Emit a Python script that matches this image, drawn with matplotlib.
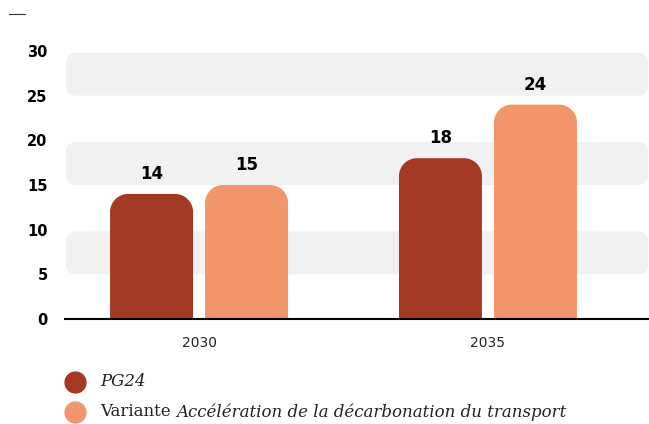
import numpy as np
import matplotlib.pyplot as plt
from matplotlib.path import Path
from matplotlib.patches import PathPatch
from matplotlib.lines import Line2D

years = ["2030", "2035"]
pg24 = [14, 18]
variante = [15, 24]
yticks = [0, 5, 10, 15, 20, 25, 30]
bands = [(5, 9.8), (15, 19.8), (25, 29.8)]

c_dark = "#A33923"
c_light = "#F2956A"
c_band = "#F1F1F1"


def rounded(x0, y0, x1, y1, rx, ry, top_only=False):
    # rectangle with rounded corners (rx, ry in data units)
    k = 0.5523
    if top_only:
        v = [(x0, y0), (x1, y0)]
        c = [Path.MOVETO, Path.LINETO]
    else:
        v = [(x0 + rx, y0), (x1 - rx, y0),
             (x1 - rx + k * rx, y0), (x1, y0 + ry - k * ry), (x1, y0 + ry)]
        c = [Path.MOVETO, Path.LINETO] + [Path.CURVE4] * 3
    v += [(x1, y1 - ry), (x1, y1 - ry + k * ry), (x1 - rx + k * rx, y1), (x1 - rx, y1)]
    c += [Path.LINETO] + [Path.CURVE4] * 3
    v += [(x0 + rx, y1), (x0 + rx - k * rx, y1), (x0, y1 - ry + k * ry), (x0, y1 - ry)]
    c += [Path.LINETO] + [Path.CURVE4] * 3
    if top_only:
        v += [(x0, y0)]
        c += [Path.LINETO]
    else:
        v += [(x0, y0 + ry), (x0, y0 + ry - k * ry), (x0 + rx - k * rx, y0), (x0 + rx, y0)]
        c += [Path.LINETO] + [Path.CURVE4] * 3
    v += [(0, 0)]
    c += [Path.CLOSEPOLY]
    return Path(v, c)


fig = plt.figure(figsize=(6.49, 4.24), dpi=100)
ax = fig.add_axes([65 / 649, 1 - 319 / 424, (648 - 65) / 649, 268 / 424])
xmin, xmax = -0.464, 1.554
ax.set_xlim(xmin, xmax)
ax.set_ylim(0, 30)

px_x = (xmax - xmin) / 583
px_y = 30 / 268

for b0, b1 in bands:
    ax.add_patch(PathPatch(rounded(xmin + px_x, b0, xmax, b1, 9 * px_x, 9 * px_y),
                           facecolor=c_band, edgecolor="none", zorder=0))

x = np.arange(len(years))
w = 83 * px_x
off = 47.5 * px_x
for xi, a, b in zip(x, pg24, variante):
    for xc, val, col in [(xi - off, a, c_dark), (xi + off, b, c_light)]:
        ax.add_patch(PathPatch(rounded(xc - w / 2, 0, xc + w / 2, val, 18 * px_x, 18 * px_y, top_only=True),
                               facecolor=col, edgecolor="none", zorder=2))
        ax.text(xc, val + 1.2, str(val), ha="center", va="bottom", fontsize=12,
                fontweight="heavy", color="black", zorder=3)

for s in ["top", "right", "left"]:
    ax.spines[s].set_visible(False)
ax.spines["bottom"].set_linewidth(1.5)
ax.spines["bottom"].set_zorder(4)
ax.set_xticks(x)
ax.set_xticklabels(years, fontsize=10, color="#222222")
ax.set_yticks(yticks)
ax.set_yticklabels([str(t) for t in yticks], fontsize=10.5, fontweight="bold")
ax.tick_params(length=0)
ax.tick_params(axis="x", pad=12)
ax.tick_params(axis="y", pad=12.5)

# top-left dash
fig.add_artist(Line2D([9 / 649, 25 / 649], [1 - 14 / 424, 1 - 14 / 424], color="#333333", lw=0.8))

# legend
for yy, col in [(382, c_dark), (412, c_light)]:
    fig.add_artist(Line2D([75 / 649], [1 - yy / 424], marker="o", markersize=15,
                          color=col, linestyle="none"))

fs = 12
fig.text(100 / 649, 1 - 382 / 424, "PG24", style="italic", family="DejaVu Serif",
         fontsize=fs, va="center", color="#222222")
t = fig.text(100 / 649, 1 - 412 / 424, "Variante ", family="DejaVu Serif",
             fontsize=fs, va="center", color="#222222")
fig.canvas.draw()
bb = t.get_window_extent()
fig.text(bb.x1 / 649, 1 - 412 / 424, "Accélération de la décarbonation du transport",
         style="italic", family="DejaVu Serif", fontsize=fs, va="center", color="#222222")

fig.savefig("out.png", dpi=100)
